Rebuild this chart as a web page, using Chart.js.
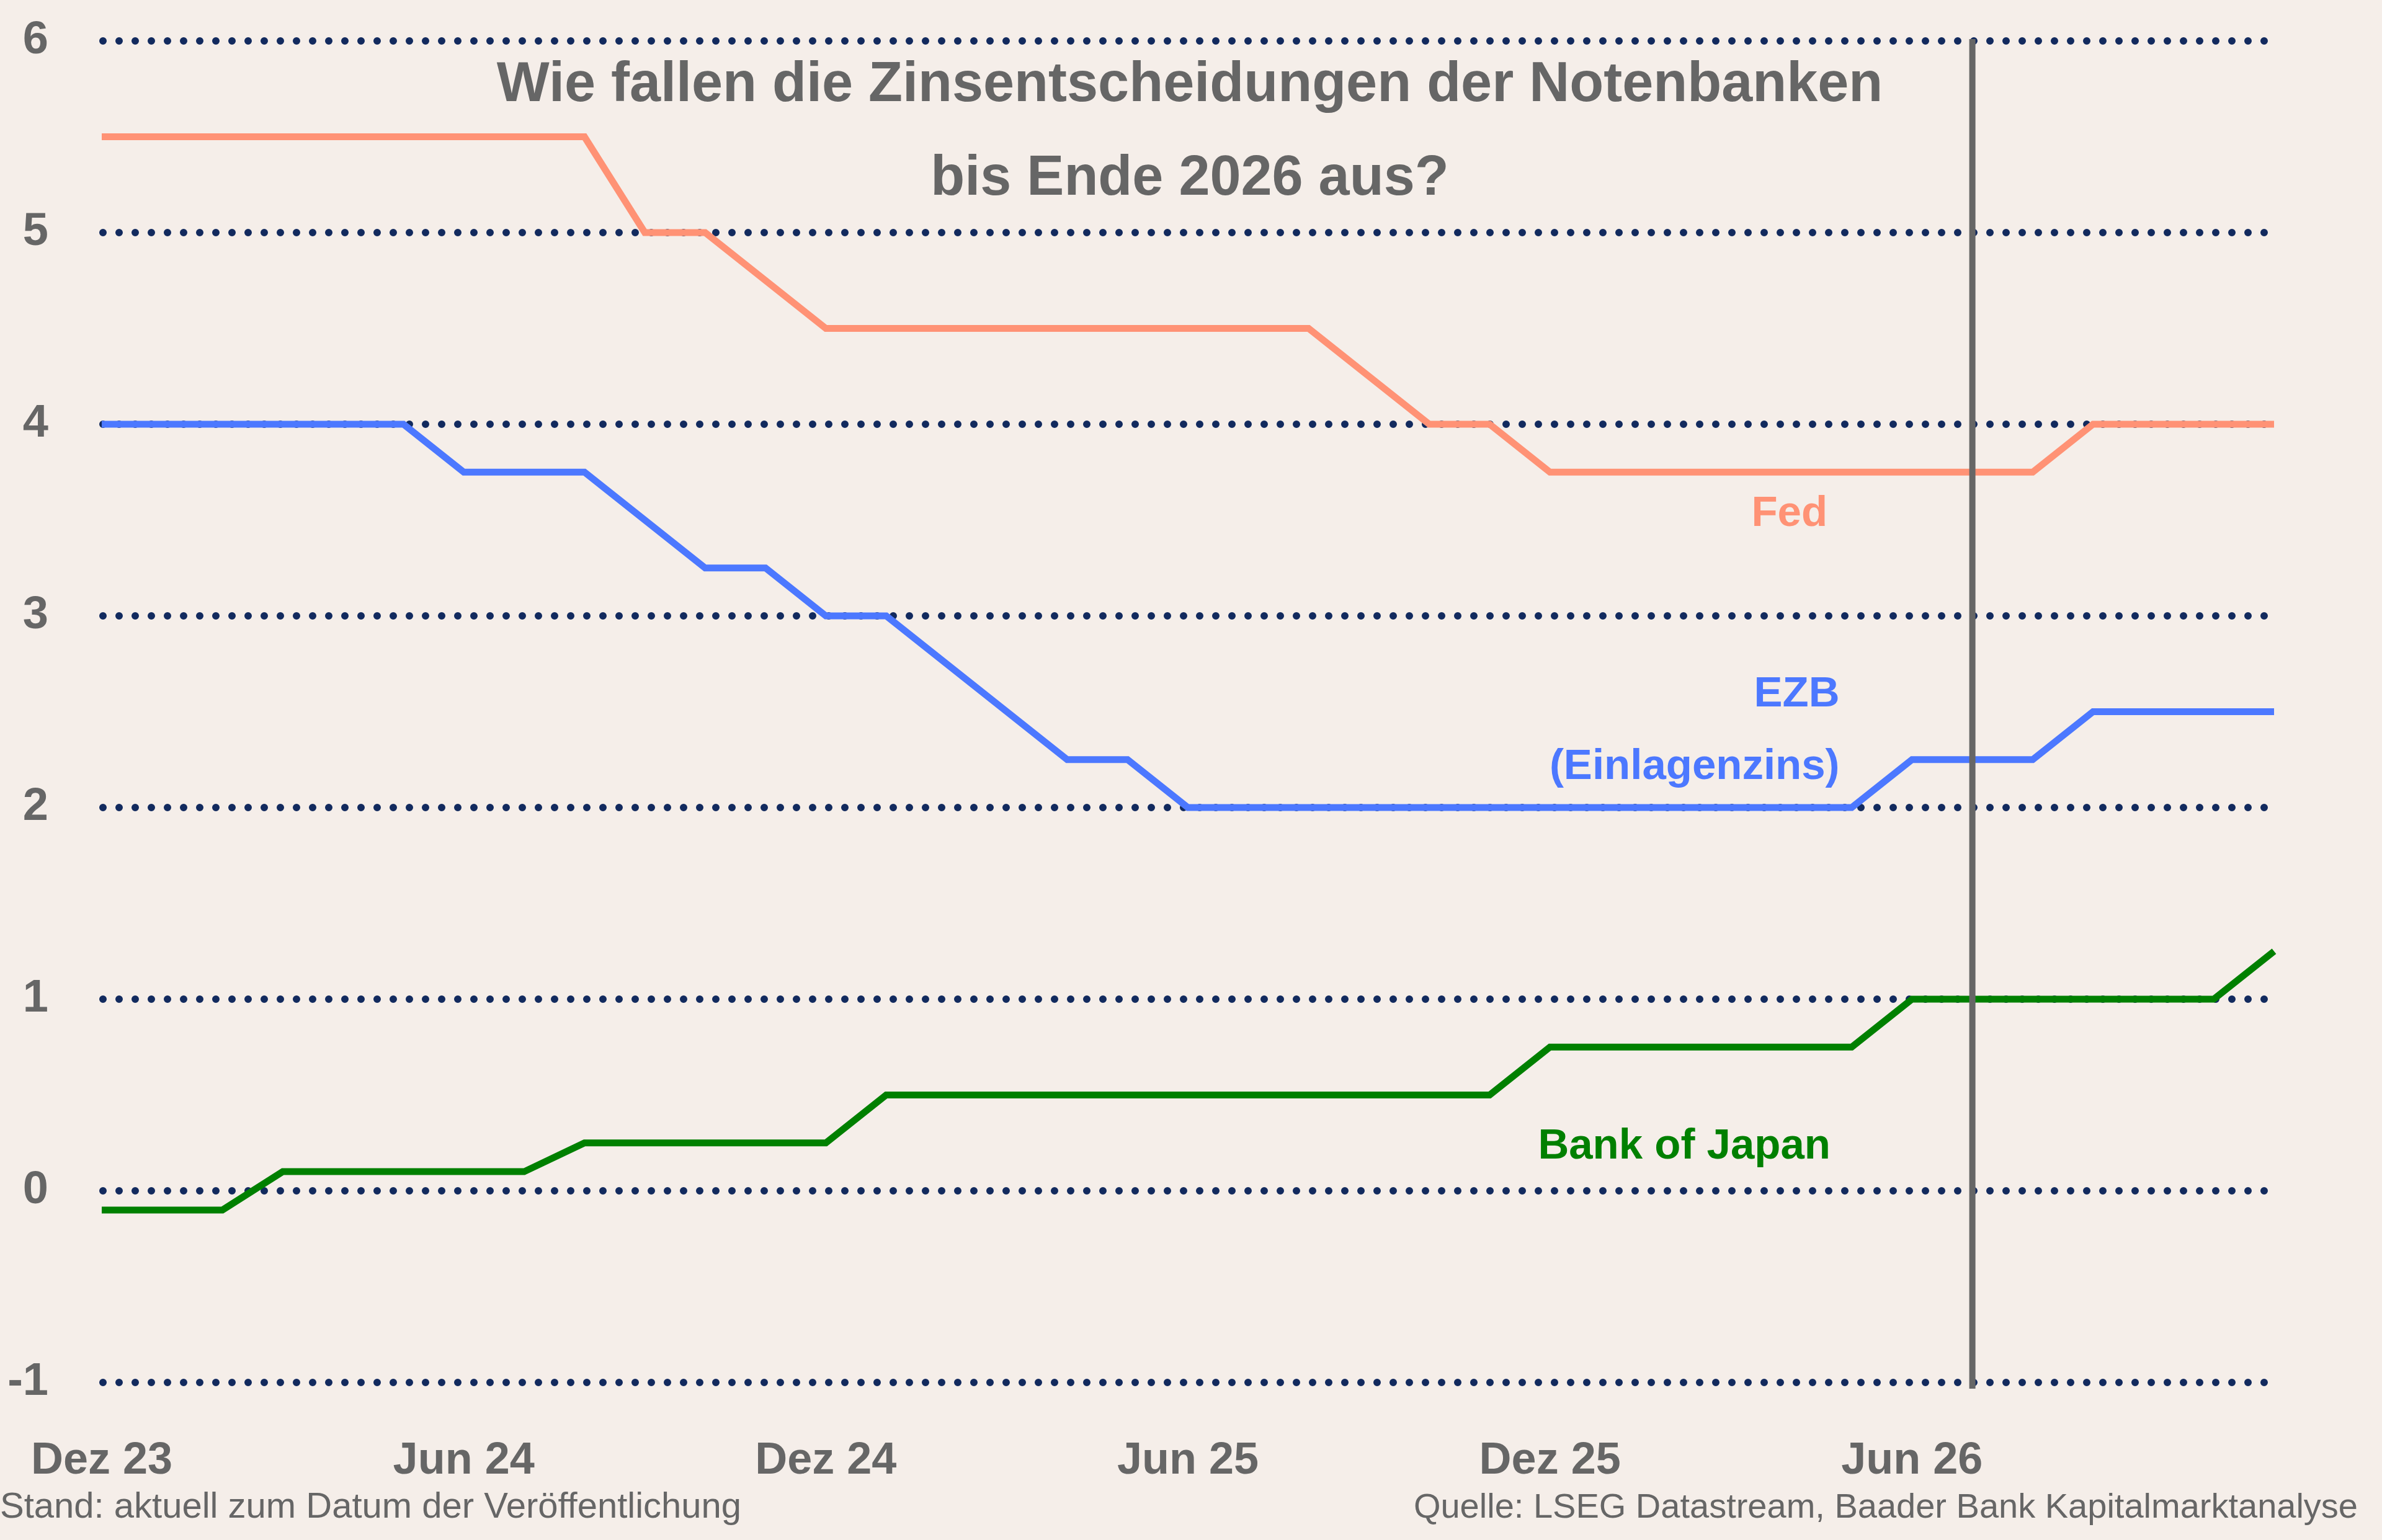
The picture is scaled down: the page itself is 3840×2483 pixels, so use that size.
<!DOCTYPE html>
<html>
<head>
<meta charset="utf-8">
<script src="https://cdn.jsdelivr.net/npm/chart.js@4.4.1/dist/chart.umd.min.js"></script>
<style>
  html, body { margin: 0; padding: 0; background: #F5EEE9; }
  #wrap { width: 3840px; height: 2483px; position: relative; }
  canvas { display: block; }
</style>
</head>
<body>
<div id="wrap"><canvas id="c" width="3840" height="2483"></canvas></div>
<script>
// ---------- DATA ----------
const months = [
  'Dez 23',
  'Jan 24','Feb 24','Mär 24','Apr 24','Mai 24','Jun 24','Jul 24','Aug 24','Sep 24','Okt 24','Nov 24','Dez 24',
  'Jan 25','Feb 25','Mär 25','Apr 25','Mai 25','Jun 25','Jul 25','Aug 25','Sep 25','Okt 25','Nov 25','Dez 25',
  'Jan 26','Feb 26','Mär 26','Apr 26','Mai 26','Jun 26','Jul 26','Aug 26','Sep 26','Okt 26','Nov 26','Dez 26'
];
const tickLabels = ['Dez 23', 'Jun 24', 'Dez 24', 'Jun 25', 'Dez 25', 'Jun 26'];
const yTickValues = [-1, 0, 1, 2, 3, 4, 5, 6];

const fed = [
  5.5,
  5.5, 5.5, 5.5, 5.5, 5.5, 5.5, 5.5, 5.5, 5.0, 5.0, 4.75, 4.5,
  4.5, 4.5, 4.5, 4.5, 4.5, 4.5, 4.5, 4.5, 4.25, 4.0, 4.0, 3.75,
  3.75, 3.75, 3.75, 3.75, 3.75, 3.75, 3.75, 3.75, 4.0, 4.0, 4.0, 4.0
];
const ezb = [
  4.0,
  4.0, 4.0, 4.0, 4.0, 4.0, 3.75, 3.75, 3.75, 3.5, 3.25, 3.25, 3.0,
  3.0, 2.75, 2.5, 2.25, 2.25, 2.0, 2.0, 2.0, 2.0, 2.0, 2.0, 2.0,
  2.0, 2.0, 2.0, 2.0, 2.0, 2.25, 2.25, 2.25, 2.5, 2.5, 2.5, 2.5
];
const boj = [
  -0.1,
  -0.1, -0.1, 0.1, 0.1, 0.1, 0.1, 0.1, 0.25, 0.25, 0.25, 0.25, 0.25,
  0.5, 0.5, 0.5, 0.5, 0.5, 0.5, 0.5, 0.5, 0.5, 0.5, 0.5, 0.75,
  0.75, 0.75, 0.75, 0.75, 0.75, 1.0, 1.0, 1.0, 1.0, 1.0, 1.0, 1.25
];
const seriesNames = ['Fed', 'EZB (Einlagenzins)', 'Bank of Japan'];
const markerMonth = 'Jul 26';

const titleLines = ['Wie fallen die Zinsentscheidungen der Notenbanken', 'bis Ende 2026 aus?'];
const noteLeft = 'Stand: aktuell zum Datum der Veröffentlichung';
const noteRight = 'Quelle: LSEG Datastream, Baader Bank Kapitalmarktanalyse';

// ---------- STYLE ----------
const FONT = '"Liberation Sans", Arial, Helvetica, sans-serif';
const BG = '#F5EEE9';
const GREY = '#666666';
const DOT = '#122A5E';
const colors = { fed: '#FF9275', ezb: '#4C78FF', boj: '#008000' };

// Series labels, anchored in data units (x = month index, y = value)
const seriesLabels = [
  { text: 'Fed',            color: colors.fed, x: 28.6, y: 3.53 },
  { text: 'EZB',            color: colors.ezb, x: 28.8, y: 2.59 },
  { text: '(Einlagenzins)', color: colors.ezb, x: 28.8, y: 2.21 },
  { text: 'Bank of Japan',  color: colors.boj, x: 28.65, y: 0.23 }
];

const bgPlugin = {
  id: 'bg',
  beforeDraw(chart) {
    const ctx = chart.ctx;
    ctx.save();
    ctx.fillStyle = BG;
    ctx.fillRect(0, 0, chart.width, chart.height);
    ctx.restore();
  }
};

const dottedGrid = {
  id: 'dottedGrid',
  beforeDatasetsDraw(chart) {
    const { ctx, chartArea, scales: { y } } = chart;
    ctx.save();
    ctx.strokeStyle = DOT;
    ctx.lineWidth = 12;
    ctx.lineCap = 'round';
    ctx.setLineDash([0, 26]);
    y.ticks.forEach(t => {
      const py = Math.round(y.getPixelForValue(t.value));
      ctx.beginPath();
      ctx.moveTo(chartArea.left + 2, py);
      ctx.lineTo(chartArea.right - 4, py);
      ctx.stroke();
    });
    ctx.restore();
  }
};

const overlay = {
  id: 'overlay',
  afterDatasetsDraw(chart) {
    const { ctx, scales: { x, y } } = chart;
    ctx.save();
    // vertical marker line
    const mx = x.getPixelForValue(months.indexOf(markerMonth));
    ctx.strokeStyle = GREY;
    ctx.lineWidth = 10;
    ctx.beginPath();
    ctx.moveTo(mx, y.getPixelForValue(6) - 3);
    ctx.lineTo(mx, y.getPixelForValue(-1) + 10);
    ctx.stroke();
    // series labels
    ctx.font = 'bold 69px ' + FONT;
    ctx.textAlign = 'right';
    ctx.textBaseline = 'middle';
    seriesLabels.forEach(l => {
      ctx.fillStyle = l.color;
      ctx.fillText(l.text, x.getPixelForValue(l.x), y.getPixelForValue(l.y));
    });
    ctx.restore();
  },
  afterDraw(chart) {
    const ctx = chart.ctx;
    ctx.save();
    ctx.fillStyle = GREY;
    ctx.textAlign = 'center';
    ctx.textBaseline = 'middle';
    ctx.font = 'bold 90px ' + FONT;
    ctx.fillText(titleLines[0], 1918, 138);
    ctx.fillText(titleLines[1], 1918, 289);
    ctx.textBaseline = 'alphabetic';
    ctx.font = '58px ' + FONT;
    ctx.textAlign = 'left';
    ctx.fillText(noteLeft, 0, 2447);
    ctx.font = '56px ' + FONT;
    ctx.textAlign = 'right';
    ctx.fillText(noteRight, 3801, 2447);
    ctx.restore();
  }
};

const zeroPad = s => { s.paddingLeft = 0; s.paddingRight = 0; s.paddingTop = 0; s.paddingBottom = 0; };

new Chart(document.getElementById('c'), {
  type: 'line',
  data: {
    labels: months,
    datasets: [
      { label: seriesNames[0], data: fed, borderColor: colors.fed },
      { label: seriesNames[1], data: ezb, borderColor: colors.ezb },
      { label: seriesNames[2], data: boj, borderColor: colors.boj }
    ]
  },
  options: {
    responsive: false,
    animation: false,
    devicePixelRatio: 1,
    layout: { padding: { top: 66, right: 174, left: 0, bottom: 0 } },
    elements: {
      line: { borderWidth: 11, tension: 0, fill: false, borderJoinStyle: 'miter', borderCapStyle: 'butt' },
      point: { radius: 0, hoverRadius: 0 }
    },
    plugins: {
      legend: { display: false },
      title: { display: false },
      tooltip: { enabled: false }
    },
    scales: {
      x: {
        type: 'category',
        offset: false,
        grid: { display: false, drawTicks: false },
        border: { display: false },
        ticks: {
          autoSkip: false,
          maxRotation: 0,
          minRotation: 0,
          padding: 84,
          color: GREY,
          font: { family: FONT, size: 72, weight: 'bold' },
          callback: (v, i) => (tickLabels.includes(months[i]) ? months[i] : '')
        },
        afterFit: s => { s.height = 254; zeroPad(s); }
      },
      y: {
        type: 'linear',
        min: yTickValues[0],
        max: yTickValues[yTickValues.length - 1],
        grid: { display: false, drawTicks: false },
        border: { display: false },
        afterBuildTicks: s => { s.ticks = yTickValues.map(v => ({ value: v })); },
        ticks: {
          padding: 86,
          color: GREY,
          font: { family: FONT, size: 74, weight: 'bold' },
          callback: v => String(v)
        },
        afterFit: s => { s.width = 164; zeroPad(s); }
      }
    }
  },
  plugins: [bgPlugin, dottedGrid, overlay]
});
</script>
</body>
</html>
